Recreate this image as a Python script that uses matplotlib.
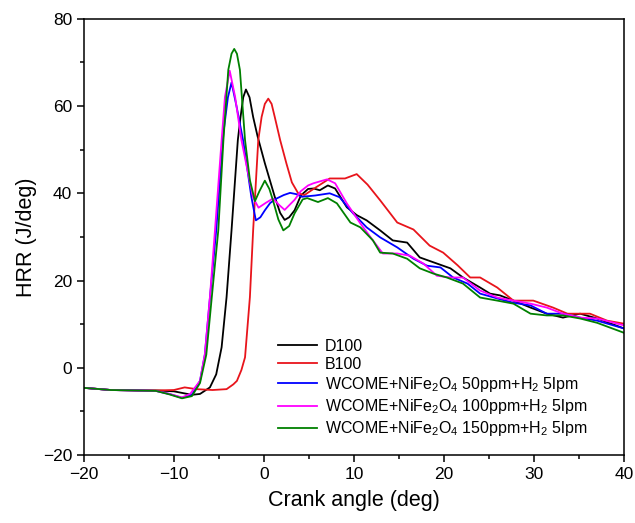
import matplotlib
matplotlib.use("Agg")
import matplotlib.pyplot as plt
from matplotlib.ticker import MultipleLocator

plt.rcParams['font.family'] = ['Liberation Sans', 'DejaVu Sans']
plt.rcParams['mathtext.default'] = 'regular'

# D100
x_d100 = [-20, -17, -14, -12, -10, -9, -8, -7.1, -6, -5.3, -4.7, -4.15, -3.6, -2.9, -2.6, -2.3, -2, -1.6,
          -1.2, -0.7, 0.1, 1.2, 1.8, 2.3, 2.8, 3.4, 4.1, 4.9, 5.5, 6.2, 7.1, 7.9, 9.2, 10.3, 11.4, 12.9,
          14.3, 15.9, 17.3, 19.2, 20.7, 22.1, 24, 25.1, 26.2, 27.7, 29.6, 31.4, 33.2, 35.1, 37, 40]
y_d100 = [-4.6, -5.1, -5.2, -5.2, -5.4, -5.8, -6.2, -6.0, -4.5, -1.5, 4.7, 16.2, 31.5, 52.2, 57.5, 62, 63.8, 62,
          57.5, 53, 46.9, 39.2, 35.5, 33.9, 34.5, 36.1, 39.5, 41, 41.1, 40.7, 41.8, 41.1, 36.8, 35, 33.8, 31.5,
          29.2, 28.7, 25.3, 23.9, 22.8, 20.7, 18.4, 17, 16.6, 15.4, 13.8, 12.4, 11.5, 12.4, 11.3, 9]

# B100
x_b100 = [-20, -17, -14, -12, -10, -8.8, -7.5, -5.7, -4.15, -3.4, -3.0, -2.5, -2.1, -1.56, -1.2, -0.63,
          -0.26, 0.1, 0.48, 0.85, 1.2, 1.8, 2.5, 3.1, 3.8, 4.5, 5.5, 7.3, 9, 10.3, 11.5, 12.9, 14.8, 16.6,
          18.4, 19.9, 21.5, 22.9, 24, 25.9, 27.7, 29.9, 32.1, 33.7, 36.2, 38.1, 40]
y_b100 = [-4.6, -5.1, -5.2, -5.2, -5.1, -4.5, -4.9, -5.1, -4.9, -3.8, -3, -0.5, 2.4, 16.2, 31.5, 52.2,
          57.5, 60.5, 61.7, 60.5, 57.5, 52.2, 46.8, 42.5, 40, 39.6, 41, 43.4, 43.4, 44.4, 42, 38.4, 33.3, 31.7,
          28, 26.4, 23.5, 20.7, 20.7, 18.4, 15.4, 15.4, 13.8, 12.4, 12.4, 10.8, 10.1]

# WCOME+NiFe2O4 50ppm+H2 5lpm
x_50 = [-20, -17, -14, -12, -10.5, -9.1, -8, -7.1, -6.56, -6, -5.3, -4.5, -4.0, -3.6, -3.03, -2.3,
        -1.4, -0.9, -0.4, 0.1, 0.7, 1.4, 2.2, 2.9, 3.6, 4.2, 5.7, 7.3, 8.4, 9.9, 11.4, 12.9, 14.8, 16.6,
        18.1, 19.6, 21, 22.6, 24, 25.9, 27.7, 29.6, 31.4, 33.2, 35.1, 37, 40]
y_50 = [-4.6, -5.1, -5.2, -5.3, -6, -6.9, -6.2, -3, 3, 16, 31.5, 53.8, 62, 65.4, 59.8, 52,
        39.2, 33.8, 34.5, 36.1, 37.8, 38.8, 39.6, 40.1, 39.8, 39.2, 39.5, 40, 39.1, 35.4, 32.2, 29.9, 27.6, 25,
        23.4, 23, 20.7, 19.3, 17, 15.9, 14.9, 14.3, 12.4, 12.4, 11.5, 10.8, 9]

# WCOME+NiFe2O4 100ppm+H2 5lpm
x_100 = [-20, -17, -14, -12, -10.5, -9.1, -8.2, -7.1, -6.56, -6, -5.44, -4.7, -4.33, -3.8, -3.2, -2.5,
         -1.9, -1.2, -0.6, 0.2, 1, 1.7, 2.3, 3.4, 4.1, 4.9, 5.5, 7, 7.9, 9.2, 10.7, 12.1, 13.2, 14.8, 16.2,
         17.7, 19.2, 20.7, 22.1, 24, 25.9, 27.7, 29.6, 31.4, 33.2, 35.1, 37, 40]
y_100 = [-4.6, -5.1, -5.2, -5.3, -6, -6.8, -6, -3, 3.2, 16.2, 31.5, 52.2, 62.1, 68.1, 62.1, 52.2,
         46, 39, 36.7, 37.8, 38.8, 37.3, 36.2, 38.5, 40.5, 41.8, 42.3, 43.2, 42.3, 37.7, 33.1, 29.2, 26.2, 26.2, 25.7,
         23.9, 21.1, 20.7, 20.7, 17.7, 16.1, 15.4, 14.7, 13.8, 12.4, 11.5, 11.3, 9.7]

# WCOME+NiFe2O4 150ppm+H2 5lpm
x_150 = [-20, -17, -14, -12, -10.5, -9.1, -8, -7.1, -6.4, -5.8, -5.07, -4.5, -3.96, -3.6, -3.3, -3.0,
         -2.67, -2.1, -1.56, -1, -0.5, 0.1, 0.6, 1.0, 1.6, 2.15, 2.8, 3.4, 4.3, 4.8, 6, 7.1, 8.1, 9.6, 10.7,
         12.1, 12.9, 14.3, 15.9, 17.3, 18.8, 20.3, 22.1, 24, 25.9, 27.7, 29.6, 31.4, 33.2, 35.1, 37, 40]
y_150 = [-4.6, -5.1, -5.2, -5.3, -6.1, -7, -6.5, -3.5, 3, 16, 31.5, 52.2, 68.3, 72, 73.1, 72,
         68.3, 52.2, 43, 38.2, 40.5, 42.9, 41, 38.4, 34, 31.5, 32.5, 35.4, 38.6, 38.9, 38, 38.9, 37.7, 33.3, 32.2,
         29.2, 26.4, 26.2, 25, 22.8, 21.6, 20.7, 19.3, 16.1, 15.4, 14.7, 12.4, 12, 12, 11.3, 10.3, 8]

series = [
    (x_d100, y_d100, "D100", "black"),
    (x_b100, y_b100, "B100", "#e8141b"),
    (x_50, y_50, "WCOME+NiFe$_2$O$_4$ 50ppm+H$_2$ 5lpm", "#0000ff"),
    (x_100, y_100, "WCOME+NiFe$_2$O$_4$ 100ppm+H$_2$ 5lpm", "#ff00ff"),
    (x_150, y_150, "WCOME+NiFe$_2$O$_4$ 150ppm+H$_2$ 5lpm", "#008000"),
]

fig = plt.figure(figsize=(6.35, 5.23), dpi=100)
ax = fig.add_axes([0.132, 0.130, 0.851, 0.834])

for xs, ys, lab, col in series:
    ax.plot(xs, ys, color=col, lw=1.3, label=lab, solid_joinstyle='round')

ax.set_xlim(-20, 40)
ax.set_ylim(-20, 80)
ax.xaxis.set_major_locator(MultipleLocator(10))
ax.xaxis.set_minor_locator(MultipleLocator(5))
ax.yaxis.set_major_locator(MultipleLocator(20))
ax.yaxis.set_minor_locator(MultipleLocator(10))
ax.tick_params(which='both', direction='out', labelsize=12.5, width=1.1)
ax.tick_params(which='major', length=5)
ax.tick_params(which='minor', length=3)
for sp in ax.spines.values():
    sp.set_linewidth(1.1)

ax.set_xlabel("Crank angle (deg)", fontsize=15.5, labelpad=6)
ax.set_ylabel("HRR (J/deg)", fontsize=15.5, labelpad=4)

ax.legend(loc='upper left', bbox_to_anchor=(0.345, 0.285), frameon=False, fontsize=11.5,
          handlelength=2.4, handletextpad=0.5, labelspacing=0.2, borderpad=0)

fig.savefig("out.png", dpi=100)
